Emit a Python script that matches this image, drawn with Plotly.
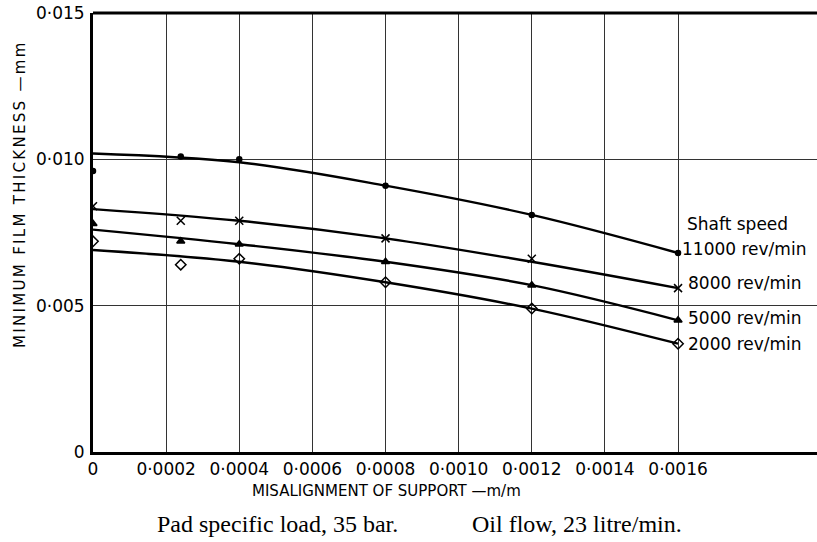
import plotly.graph_objects as go

# --- data ---
speeds = ["11000 rev/min", "8000 rev/min", "5000 rev/min", "2000 rev/min"]

# measured points (markers)
x_pts = [0, 0.00024, 0.0004, 0.0008, 0.0012, 0.0016]
pts_11000 = [0.0096, 0.0101, 0.0100, 0.0091, 0.0081, 0.0068]
pts_8000 = [0.0084, 0.0079, 0.0079, 0.0073, 0.0066, 0.0056]
pts_5000 = [0.0078, 0.0072, 0.0071, 0.0065, 0.0057, 0.0045]
pts_2000 = [0.0072, 0.0064, 0.0066, 0.0058, 0.0049, 0.0037]

# faired curves
x_curve = [0, 0.0004, 0.0008, 0.0012, 0.0016]
curve_11000 = [0.0102, 0.0099, 0.0091, 0.0081, 0.0068]
curve_8000 = [0.0083, 0.0079, 0.0073, 0.0065, 0.0056]
curve_5000 = [0.0076, 0.0071, 0.0065, 0.0057, 0.0045]
curve_2000 = [0.0069, 0.0065, 0.0058, 0.0049, 0.0037]

x_ticks = [0, 0.0002, 0.0004, 0.0006, 0.0008, 0.0010, 0.0012, 0.0014, 0.0016]
x_tick_text = ["0", "0·0002", "0·0004", "0·0006", "0·0008", "0·0010", "0·0012", "0·0014", "0·0016"]
y_ticks = [0, 0.005, 0.010, 0.015]
y_tick_text = ["0", "0·005", "0·010", "0·015"]

points = [pts_11000, pts_8000, pts_5000, pts_2000]
curves = [curve_11000, curve_8000, curve_5000, curve_2000]
symbols = ["circle", "x-thin-open", "triangle-up", "diamond-open"]
sizes = [5, 8, 7, 8]
label_shift = [0, 6, 6, 6]   # horizontal offset of speed labels (px)
label_yshift = [4, 5, 2, 0]

SANS = "DejaVu Sans, sans-serif"
SERIF = "Liberation Serif, DejaVu Serif, serif"

W, H = 817, 542
L, R, T, B = 93, 0, 13, 90

fig = go.Figure()
for name, cy, py, sym, sz in zip(speeds, curves, points, symbols, sizes):
    fig.add_trace(go.Scatter(
        x=x_curve, y=cy, mode="lines", name=name,
        line=dict(color="black", width=2.4, shape="spline", smoothing=1.0),
        showlegend=False, hoverinfo="skip"))
    fig.add_trace(go.Scatter(
        x=x_pts, y=py, mode="markers", name=name,
        marker=dict(symbol=sym, size=sz, color="black",
                    line=dict(color="black", width=1.5)),
        showlegend=False))

# speed labels at curve ends
label_y = [pts_11000[-1], pts_8000[-1], pts_5000[-1], pts_2000[-1]]
for name, yv, dx, dy in zip(speeds, label_y, label_shift, label_yshift):
    fig.add_annotation(x=0.0016, y=yv, text=name, xref="x", yref="y",
                       xanchor="left", yanchor="middle", xshift=2 + dx, yshift=dy,
                       showarrow=False,
                       font=dict(family=SANS, size=17, color="black"))
fig.add_annotation(x=0.0016, y=pts_11000[-1], text="Shaft speed", xref="x", yref="y",
                   xanchor="left", yanchor="middle", xshift=7, yshift=29, showarrow=False,
                   font=dict(family=SANS, size=17, color="black"))

pw, ph = W - L - R, H - T - B


def px(xpix):
    return (xpix - L) / pw


def py_(ypix):
    return (H - B - ypix) / ph


fig.add_annotation(x=px(386), y=py_(491), xref="paper", yref="paper",
                   xanchor="center", yanchor="middle",
                   text="MISALIGNMENT OF SUPPORT —m/m", showarrow=False,
                   font=dict(family=SANS, size=15, color="black"))
fig.add_annotation(x=px(20), y=py_(194), xref="paper", yref="paper",
                   xanchor="center", yanchor="middle",
                   text="MINIMUM FILM THICKNESS —mm", textangle=-90, showarrow=False,
                   font=dict(family=SANS, size=15, color="black"), name="ytitle")
fig.add_annotation(x=px(155), y=py_(524), xref="paper", yref="paper",
                   xanchor="left", yanchor="middle",
                   text="Pad specific load, 35 bar.", showarrow=False,
                   font=dict(family=SERIF, size=24, color="black"))
fig.add_annotation(x=px(470), y=py_(524), xref="paper", yref="paper",
                   xanchor="left", yanchor="middle",
                   text="Oil flow, 23 litre/min.", showarrow=False,
                   font=dict(family=SERIF, size=24, color="black"))

fig.update_layout(
    width=W, height=H,
    margin=dict(l=L, r=R, t=T, b=B, autoexpand=False),
    paper_bgcolor="white", plot_bgcolor="white",
    font=dict(family=SANS, size=17, color="black"),
    xaxis=dict(range=[0, 0.00198], tickvals=x_ticks, ticktext=x_tick_text,
               showgrid=True, gridcolor="#333", gridwidth=1,
               showline=True, linecolor="black", linewidth=3,
               ticks="", zeroline=False, tickfont=dict(size=17), automargin=False),
    yaxis=dict(range=[0, 0.015], tickvals=y_ticks, ticktext=y_tick_text,
               showgrid=True, gridcolor="#333", gridwidth=1,
               showline=True, linecolor="black", linewidth=3,
               ticks="outside", ticklen=2, tickcolor="rgba(0,0,0,0)",
               ticklabeloverflow="allow",
               zeroline=False, tickfont=dict(size=17), automargin=False),
)

# top border
fig.add_shape(type="line", xref="paper", yref="paper", x0=0, x1=1, y0=1, y1=1,
              line=dict(color="black", width=3))

post = """
document.body.style.margin='0';
document.body.style.overflow='hidden';
document.querySelectorAll('.annotation-text').forEach(function(t){
  if (t.textContent.indexOf('MINIMUM') === 0) { t.style.letterSpacing = '2.3px'; }
});
"""

fig.write_html("out.html", config={"displayModeBar": False}, post_script=post)
